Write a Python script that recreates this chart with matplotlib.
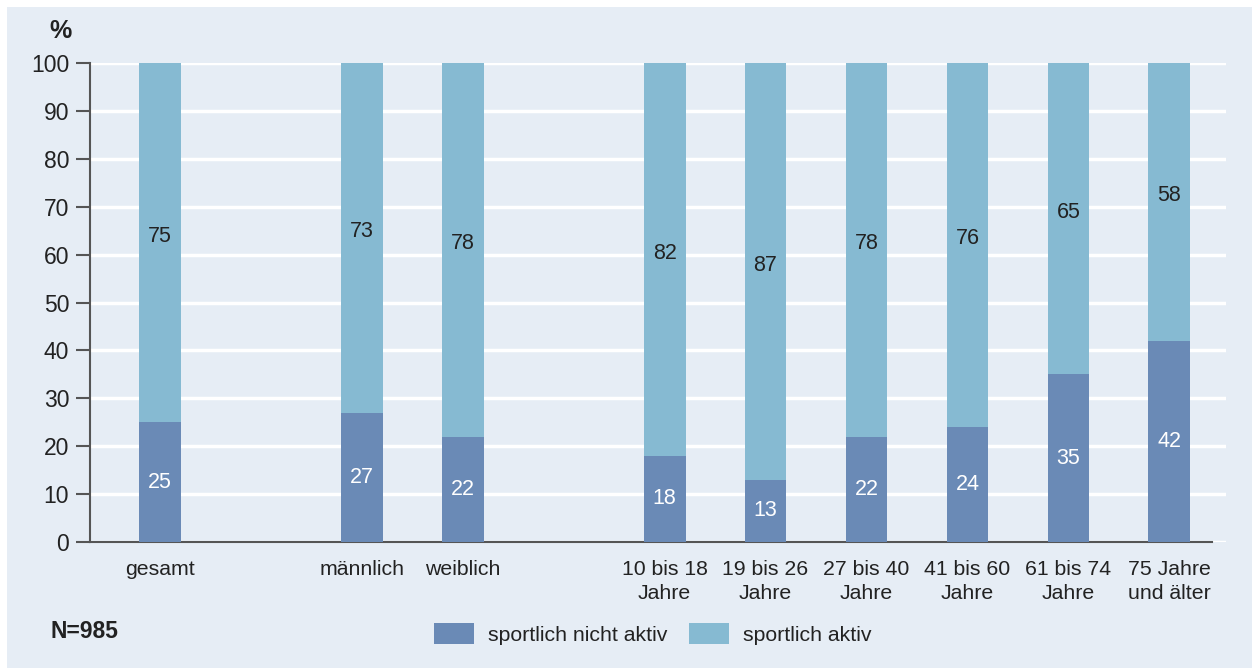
import matplotlib

matplotlib.use("Agg")
import matplotlib.pyplot as plt
from matplotlib.patches import Patch, Rectangle

plt.rcParams["font.family"] = ["Liberation Sans", "DejaVu Sans"]

# data
categories = ["gesamt", "männlich", "weiblich", "10 bis 18\nJahre", "19 bis 26\nJahre",
              "27 bis 40\nJahre", "41 bis 60\nJahre", "61 bis 74\nJahre", "75 Jahre\nund älter"]
slots = [0, 2, 3, 5, 6, 7, 8, 9, 10]
nicht_aktiv = [25, 27, 22, 18, 13, 22, 24, 35, 42]
aktiv = [75, 73, 78, 82, 87, 78, 76, 65, 58]
yticks = list(range(0, 101, 10))

C_DARK = "#6a8ab6"
C_LIGHT = "#86bad2"
C_BG = "#e6edf5"
C_AXIS = "#555555"
C_TEXT = "#222222"

W, H = 1252, 668
fig = plt.figure(figsize=(W / 100, H / 100), dpi=100)
fig.patch.set_facecolor("white")
fig.add_artist(Rectangle((7 / W, 0), 1 - 7 / W, 1 - 7 / H, transform=fig.transFigure,
                         facecolor=C_BG, edgecolor="none", zorder=0))

ax = fig.add_axes([90 / W, 1 - 542 / H, (1226 - 90) / W, (542 - 63) / H])
ax.set_facecolor("none")
ax.set_xlim(-0.69, 10.56)
ax.set_ylim(0, 100)

ax.bar(slots, nicht_aktiv, width=0.415, color=C_DARK, zorder=3)
ax.bar(slots, aktiv, width=0.415, bottom=nicht_aktiv, color=C_LIGHT, zorder=3)

for x, a, b in zip(slots, nicht_aktiv, aktiv):
    ax.text(x, a / 2, str(a), ha="center", va="center", color="white", fontsize=15.5, zorder=4)
    ax.text(x, a + b / 2 + 1.3, str(b), ha="center", va="center", color=C_TEXT, fontsize=15.5, zorder=4)

ax.set_yticks(yticks)
ax.set_yticklabels([str(t) for t in yticks], fontsize=16.5, color=C_TEXT)
ax.set_xticks(slots)
ax.set_xticklabels(categories, fontsize=15.3, color=C_TEXT, linespacing=1.3)
ax.tick_params(axis="x", length=0, pad=13)
ax.tick_params(axis="y", length=10, width=1.5, color=C_AXIS, pad=5)
ax.yaxis.grid(True, color="white", lw=2.5, zorder=1)
ax.set_axisbelow(True)

for s in ("top", "right"):
    ax.spines[s].set_visible(False)
for s in ("left", "bottom"):
    ax.spines[s].set_color(C_AXIS)
    ax.spines[s].set_linewidth(1.5)
ax.spines["bottom"].set_bounds(-0.69, 10.42)

fig.text(60 / W, 1 - 31 / H, "%", ha="center", va="center", fontsize=18, fontweight="bold", color=C_TEXT)
fig.text(50 / W, 1 - 632 / H, "N=985", ha="left", va="center", fontsize=16.5, fontweight="bold", color=C_TEXT)

handles = [Patch(facecolor=C_DARK, edgecolor="none"), Patch(facecolor=C_LIGHT, edgecolor="none")]
fig.legend(handles, ["sportlich nicht aktiv", "sportlich aktiv"], loc="center left",
           bbox_to_anchor=(415 / W, 1 - 634 / H), ncol=2, frameon=False, fontsize=15.3,
           handlelength=1.88, handleheight=1.13, handletextpad=0.66, columnspacing=1.03,
           labelcolor=C_TEXT)

fig.savefig("out.png", dpi=100)
